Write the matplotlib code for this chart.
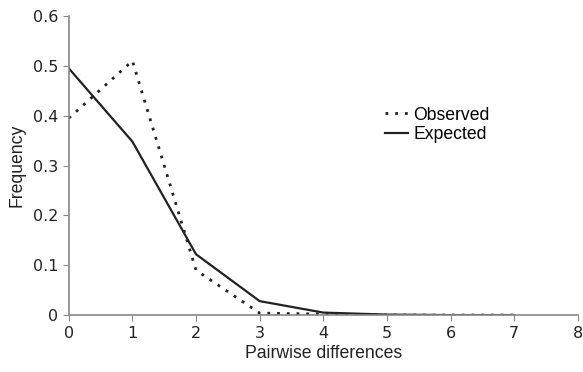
import matplotlib
matplotlib.use("Agg")
import matplotlib.pyplot as plt

x = [0, 1, 2, 3, 4, 5, 6, 7]
observed = [0.395, 0.51, 0.09, 0.004, 0.002, 0.0, 0.0, 0.0]
expected = [0.495, 0.348, 0.122, 0.028, 0.005, 0.001, 0.0, 0.0]
xticks = [0, 1, 2, 3, 4, 5, 6, 7, 8]
yticks = [0, 0.1, 0.2, 0.3, 0.4, 0.5, 0.6]
yticklabels = ["0", "0.1", "0.2", "0.3", "0.4", "0.5", "0.6"]

fig = plt.figure(figsize=(5.83, 3.72), dpi=100)
ax = fig.add_axes([0.118, 0.153, 0.873, 0.804])
ax.plot(x, observed, color="#222222", lw=2, linestyle=(0, (1, 2.5)), label="Observed")
ax.plot(x, expected, color="#222222", lw=1.6, label="Expected")
ax.set_xlim(0, 8)
ax.set_ylim(0, 0.6)
ax.set_xticks(xticks)
ax.set_yticks(yticks)
ax.set_yticklabels(yticklabels)
for s in ["top", "right"]:
    ax.spines[s].set_visible(False)
for s in ["left", "bottom"]:
    ax.spines[s].set_color("#888888")
    ax.spines[s].set_linewidth(1.2)
ax.tick_params(axis="both", colors="#888888", labelcolor="#222222", labelsize=11.5, length=4, direction="out")
ax.set_xlabel("Pairwise differences", fontsize=12.7, family="Liberation Sans", color="#222222", labelpad=3)
ax.set_ylabel("Frequency", fontsize=12.7, family="Liberation Sans", color="#222222", labelpad=5)
leg = ax.legend(loc="upper left", bbox_to_anchor=(0.59, 0.75), frameon=False,
                prop={"family": "Liberation Sans", "size": 12.7}, handlelength=1.3,
                handletextpad=0.3, labelspacing=0.15)
fig.savefig("out.png", dpi=100)
